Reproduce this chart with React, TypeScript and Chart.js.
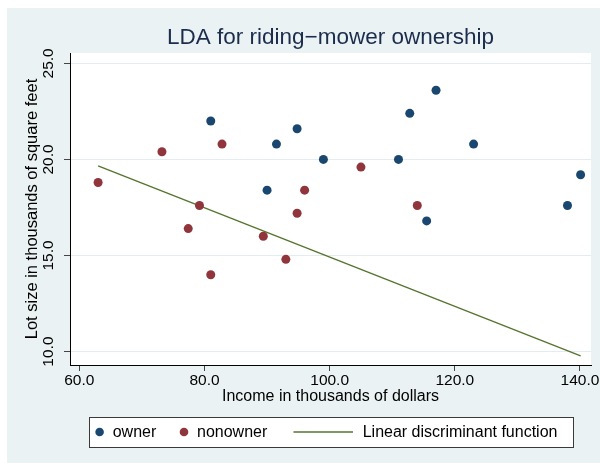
import React, { useEffect, useRef } from "react";
import { Chart, registerables } from "chart.js";

Chart.register(...registerables);

// ---- data ----
const chartTitle = "LDA for riding\u2212mower ownership";
const xAxisTitle = "Income in thousands of dollars";
const yAxisTitle = "Lot size in thousands of square feet";
const xTickValues = [60, 80, 100, 120, 140];
const yTickValues = [10, 15, 20, 25];

const ownerIncome = [90.0, 115.5, 94.8, 91.5, 117.0, 140.1, 138.0, 112.8, 99.0, 123.0, 81.0, 111.0];
const ownerLot = [18.4, 16.8, 21.6, 20.8, 23.6, 19.2, 17.6, 22.4, 20.0, 20.8, 22.0, 20.0];
const nonownerIncome = [105.0, 82.8, 94.8, 73.2, 114.0, 79.2, 89.4, 96.0, 77.4, 63.0, 81.0, 93.0];
const nonownerLot = [19.6, 20.8, 17.2, 20.4, 17.6, 17.6, 16.0, 18.4, 16.4, 18.8, 14.0, 14.8];
const ldaIncome = [63.0, 140.1];
const ldaLot = [19.66, 9.78];

const seriesLabels = ["owner", "nonowner", "Linear discriminant function"];

const FONT = '"Liberation Sans", Arial, Helvetica, sans-serif';
const OWNER_COLOR = "#1A476F";
const NONOWNER_COLOR = "#90353B";
const LINE_COLOR = "#55752F";
const BG = "#EAF2F3";

const toPoints = (xs: number[], ys: number[]) => xs.map((x, i) => ({ x, y: ys[i] }));

const stataPlugin = {
  id: "stataLook",
  beforeDraw(chart: any) {
    const { ctx, chartArea: a, width, height } = chart;
    ctx.save();
    ctx.fillStyle = BG;
    ctx.fillRect(0, 0, width, height);
    ctx.fillStyle = "#FFFFFF";
    ctx.fillRect(a.left, a.top, a.right - a.left, a.bottom - a.top);
    ctx.restore();
  },
  afterDraw(chart: any) {
    const { ctx, chartArea: a } = chart;
    const cx = (a.left + a.right) / 2;
    ctx.save();
    // title
    ctx.font = `22.5px ${FONT}`;
    ctx.fillStyle = "#1C2C4C";
    ctx.textAlign = "center";
    ctx.textBaseline = "alphabetic";
    ctx.fillText(chartTitle, cx, a.top - 9);

    // legend
    const bw = 484;
    const bh = 30;
    const bx = Math.round(cx - bw / 2);
    const by = Math.round(a.bottom + 52);
    ctx.fillStyle = "#FFFFFF";
    ctx.fillRect(bx, by, bw, bh);
    ctx.strokeStyle = "#3A3A3A";
    ctx.lineWidth = 1;
    ctx.strokeRect(bx + 0.5, by + 0.5, bw, bh);

    const ds = chart.data.datasets;
    const cy = by + bh / 2 + 1;
    ctx.font = `16px ${FONT}`;
    ctx.fillStyle = "#000";
    ctx.textAlign = "left";
    ctx.textBaseline = "middle";

    const dot = (x: number, color: string) => {
      ctx.beginPath();
      ctx.fillStyle = color;
      ctx.arc(x, cy - 1, 4.3, 0, Math.PI * 2);
      ctx.fill();
    };
    dot(bx + 10.6, ds[0].backgroundColor);
    ctx.fillStyle = "#000";
    ctx.fillText(ds[0].label, bx + 23.7, cy);
    dot(bx + 95, ds[1].backgroundColor);
    ctx.fillStyle = "#000";
    ctx.fillText(ds[1].label, bx + 108, cy);
    ctx.strokeStyle = ds[2].borderColor;
    ctx.lineWidth = 1.4;
    ctx.beginPath();
    ctx.moveTo(bx + 204.5, cy - 1);
    ctx.lineTo(bx + 264, cy - 1);
    ctx.stroke();
    ctx.fillStyle = "#000";
    ctx.fillText(ds[2].label, bx + 273.7, cy);
    ctx.restore();
  },
};

export default function App() {
  const ref = useRef<HTMLCanvasElement | null>(null);

  useEffect(() => {
    if (!ref.current) return;
    const chart = new Chart(ref.current, {
      type: "scatter",
      data: {
        datasets: [
          {
            label: seriesLabels[0],
            data: toPoints(ownerIncome, ownerLot),
            backgroundColor: OWNER_COLOR,
            borderColor: OWNER_COLOR,
            pointRadius: 4.5,
            pointBorderWidth: 0,
            showLine: false,
          },
          {
            label: seriesLabels[1],
            data: toPoints(nonownerIncome, nonownerLot),
            backgroundColor: NONOWNER_COLOR,
            borderColor: NONOWNER_COLOR,
            pointRadius: 4.5,
            pointBorderWidth: 0,
            showLine: false,
          },
          {
            label: seriesLabels[2],
            data: toPoints(ldaIncome, ldaLot),
            backgroundColor: LINE_COLOR,
            borderColor: LINE_COLOR,
            borderWidth: 1.4,
            pointRadius: 0,
            showLine: true,
          },
        ],
      },
      options: {
        animation: false,
        responsive: false,
        devicePixelRatio: 1,
        layout: { padding: { top: 45, right: 9, bottom: 58, left: 0 } },
        plugins: {
          legend: { display: false },
          title: { display: false },
          tooltip: { enabled: false },
        },
        scales: {
          x: {
            type: "linear",
            min: 58.51,
            max: 141.76,
            afterBuildTicks: (s: any) => {
              s.ticks = xTickValues.map((v) => ({ value: v }));
            },
            afterFit: (s: any) => {
              s.height = 40;
            },
            ticks: {
              color: "#000",
              padding: 0,
              maxRotation: 0,
              minRotation: 0,
              font: { size: 15.5, family: FONT },
              callback: (v: any) => Number(v).toFixed(1),
            },
            grid: {
              drawOnChartArea: false,
              tickLength: 6,
              tickColor: "#444",
              tickWidth: 1,
            },
            border: { color: "#000", width: 1 },
            title: {
              display: true,
              text: xAxisTitle,
              color: "#000",
              font: { size: 16, family: FONT },
              padding: { top: 0, bottom: -1 },
            },
          },
          y: {
            type: "linear",
            min: 9.3,
            max: 25.54,
            afterBuildTicks: (s: any) => {
              s.ticks = yTickValues.map((v) => ({ value: v }));
            },
            afterFit: (s: any) => {
              s.width = 63;
            },
            ticks: {
              color: "#000",
              padding: 0,
              minRotation: 90,
              maxRotation: 90,
              crossAlign: "center",
              font: { size: 15.5, family: FONT },
              callback: (v: any) => Number(v).toFixed(1),
            },
            grid: {
              color: "#E3ECEE",
              lineWidth: 1,
              tickLength: 6,
              tickColor: "#444",
              drawOnChartArea: true,
            },
            border: { color: "#000", width: 1 },
            title: {
              display: true,
              text: yAxisTitle,
              color: "#000",
              font: { size: 16.5, family: FONT },
              padding: { top: 16, bottom: 0 },
            },
          },
        },
      },
      plugins: [stataPlugin],
    } as any);
    return () => chart.destroy();
  }, []);

  return (
    <div style={{ position: "absolute", left: 7, top: 8, width: 593, height: 455 }}>
      <canvas ref={ref} width={593} height={455} style={{ display: "block" }} />
    </div>
  );
}
